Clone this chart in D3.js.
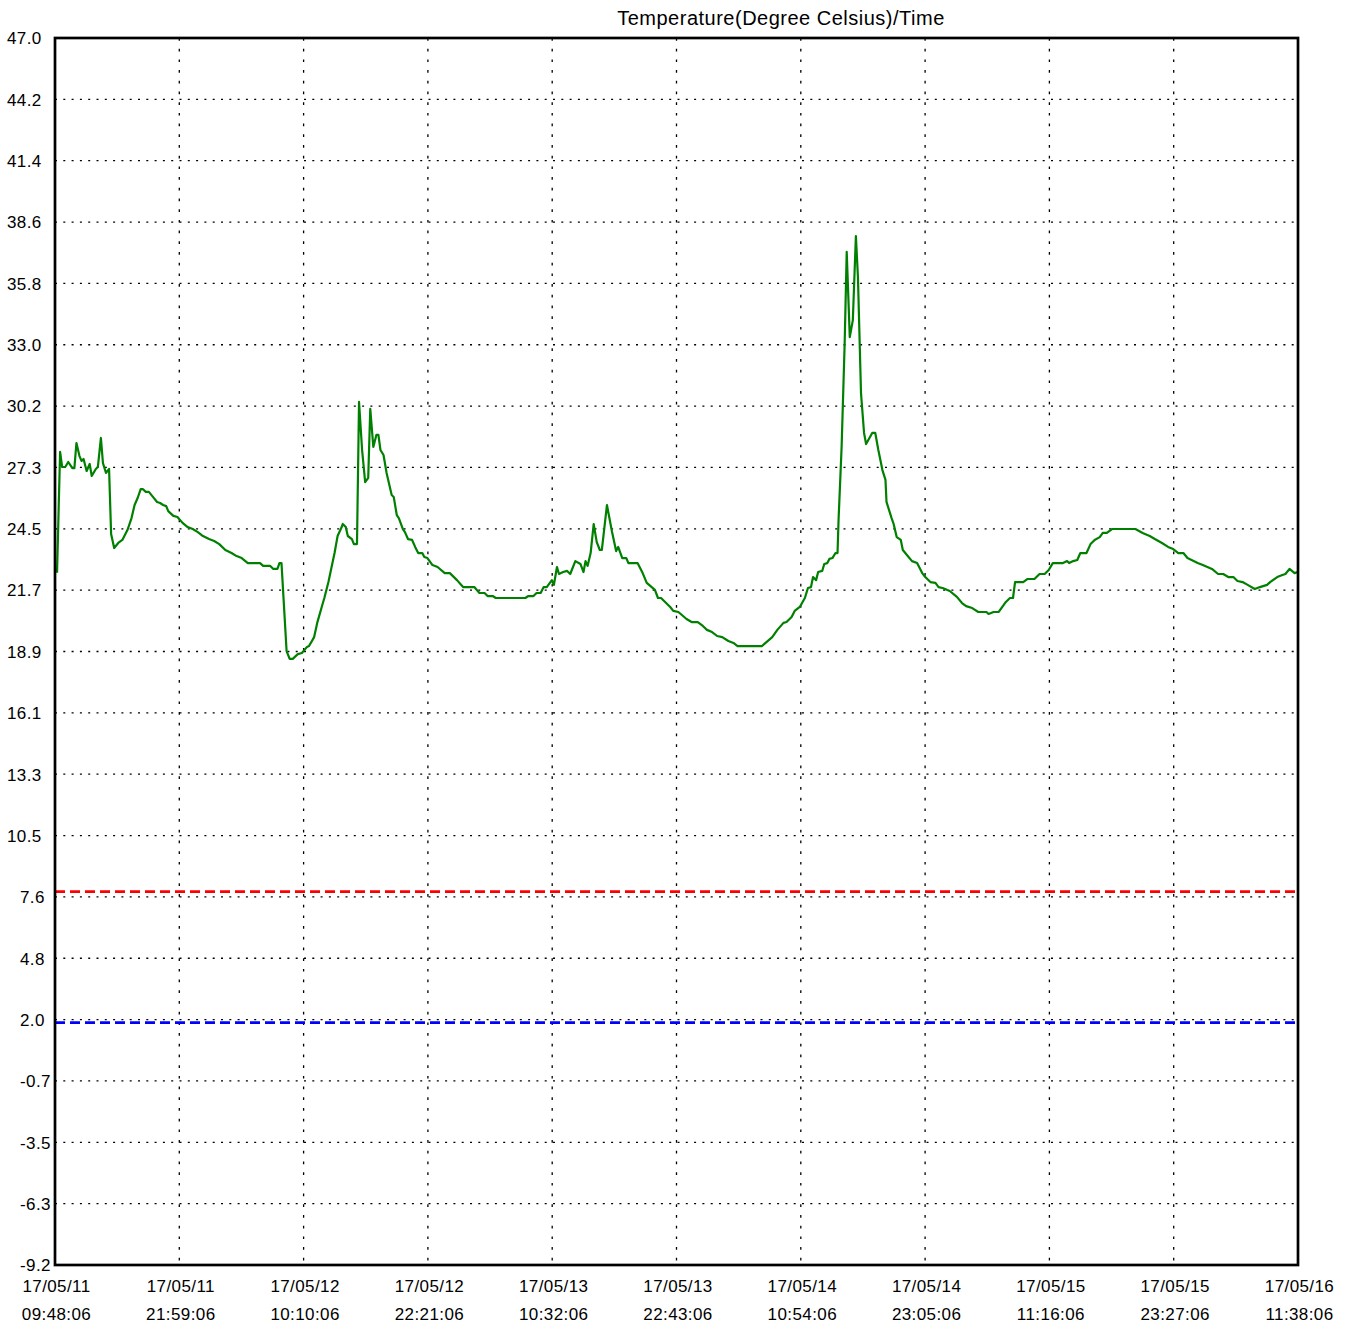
<!DOCTYPE html>
<html>
<head>
<meta charset="utf-8">
<script src="https://cdn.jsdelivr.net/npm/d3@7"></script>
<style>
  body { margin: 0; background: #fff; }
  svg text { font-family: "Liberation Sans", Arial, sans-serif; fill: #000; }
</style>
</head>
<body>
<div id="chart"></div>
<script>
// logger readings: hours after the first sample, temperature in deg C
var startTime = new Date(2017, 4, 11, 9, 48, 6);
var tickStepMinutes = 731;   // 12h11m between time labels
var xTickCount = 11;

var hoursFromStart = [
  0.2, 0.5, 0.7, 1.0, 1.3, 1.7, 1.9, 2.1, 2.4, 2.6, 2.8, 3.1, 3.4, 3.6, 4.0, 4.2, 4.5, 4.7, 5.0, 5.3,
  5.5, 5.8, 6.2, 6.6, 7.1, 7.5, 7.8, 8.1, 8.4, 8.6, 8.9, 9.2, 9.6, 10.0, 10.3, 10.6, 10.9, 11.1, 11.6, 12.0,
  12.5, 13.0, 13.5, 14.0, 14.5, 15.1, 15.6, 16.1, 16.7, 17.3, 17.8, 18.3, 18.9, 20.1, 20.4, 21.1, 21.4, 21.8, 22.0, 22.2,
  22.7, 23.0, 23.3, 23.8, 24.2, 24.7, 24.9, 25.4, 25.7, 26.2, 26.4, 26.8, 27.4, 27.7, 28.1, 28.2, 28.5, 28.7, 29.1, 29.3,
  29.6, 29.8, 30.1, 30.4, 30.7, 30.9, 31.2, 31.5, 31.7, 31.9, 32.2, 32.5, 33.0, 33.2, 33.5, 33.7, 34.1, 34.3, 34.6, 35.0,
  35.3, 35.6, 36.0, 36.2, 36.5, 37.0, 37.5, 38.2, 38.7, 39.4, 40.0, 41.1, 41.6, 42.1, 42.4, 42.9, 43.2, 46.1, 46.4, 46.9,
  47.2, 47.6, 47.9, 48.2, 48.7, 48.9, 49.2, 49.4, 49.8, 50.2, 50.5, 51.0, 51.5, 51.8, 52.0, 52.2, 52.5, 52.8, 53.1, 53.4,
  53.6, 54.1, 54.6, 55.0, 55.2, 55.6, 56.0, 56.2, 57.1, 57.6, 58.0, 58.8, 59.1, 59.4, 60.3, 60.6, 61.1, 61.9, 62.4, 63.0,
  63.5, 63.9, 64.4, 64.9, 65.4, 66.0, 66.5, 66.9, 69.3, 70.3, 70.8, 71.4, 71.7, 72.2, 72.5, 73.0, 73.5, 73.8, 74.1, 74.3,
  74.6, 74.8, 75.2, 75.4, 75.7, 75.9, 76.2, 76.5, 76.7, 76.8, 77.1, 77.4, 77.6, 77.9, 78.2, 78.5, 78.7, 79.0, 79.3, 79.5,
  80.1, 80.4, 80.7, 81.1, 81.4, 81.5, 82.0, 82.2, 82.5, 82.9, 83.1, 83.5, 84.0, 84.5, 85.0, 85.3, 85.8, 86.3, 86.6, 87.0,
  87.7, 88.4, 88.9, 89.3, 89.9, 90.5, 91.3, 91.5, 92.0, 92.5, 93.2, 93.6, 93.9, 94.1, 94.9, 95.3, 96.0, 96.5, 97.0, 97.4,
  97.8, 98.8, 99.2, 99.4, 99.8, 100.2, 100.5, 101.1, 101.5, 101.9, 102.4, 102.7, 103.1, 103.6, 105.9, 106.6, 107.3, 107.8, 108.5, 109.1,
  109.6, 110.1, 110.6, 111.0, 111.4, 112.0, 112.5, 113.4, 114.0, 114.5, 115.0, 115.5, 115.9, 116.4, 116.9, 117.6, 118.1, 118.8, 119.1, 119.8,
  120.3, 120.6, 121.0, 121.5, 121.8
];

var temperature = [
  22.51, 28.04, 27.35, 27.35, 27.58, 27.30, 27.30, 28.45, 27.85, 27.63, 27.72, 27.17, 27.49, 26.94, 27.26, 27.35, 28.68, 27.53, 27.08, 27.26,
  24.28, 23.64, 23.87, 24.01, 24.46, 25.01, 25.61, 25.93, 26.34, 26.34, 26.21, 26.21, 25.98, 25.75, 25.70, 25.61, 25.56, 25.33, 25.11, 25.06,
  24.79, 24.60, 24.51, 24.37, 24.19, 24.05, 23.96, 23.82, 23.55, 23.41, 23.27, 23.18, 22.95, 22.95, 22.82, 22.82, 22.68, 22.68, 22.95, 22.95,
  18.92, 18.56, 18.56, 18.78, 18.83, 19.11, 19.15, 19.56, 20.21, 21.03, 21.35, 22.08, 23.41, 24.19, 24.60, 24.74, 24.60, 24.19, 24.05, 23.82,
  23.82, 30.33, 28.13, 26.66, 26.85, 30.01, 28.27, 28.82, 28.82, 28.13, 27.90, 27.08, 26.07, 25.98, 25.15, 25.01, 24.51, 24.37, 24.05, 24.01,
  23.69, 23.41, 23.41, 23.23, 23.18, 22.86, 22.77, 22.49, 22.49, 22.17, 21.85, 21.85, 21.58, 21.58, 21.44, 21.44, 21.35, 21.35, 21.44, 21.44,
  21.58, 21.58, 21.85, 21.85, 22.17, 21.95, 22.77, 22.45, 22.54, 22.59, 22.45, 23.04, 22.91, 22.54, 23.04, 22.82, 23.41, 24.74, 23.91, 23.55,
  23.55, 25.61, 24.37, 23.50, 23.69, 23.18, 23.18, 22.95, 22.95, 22.49, 22.04, 21.72, 21.35, 21.35, 20.94, 20.76, 20.71, 20.39, 20.25, 20.25,
  20.07, 19.89, 19.79, 19.61, 19.56, 19.38, 19.29, 19.15, 19.15, 19.56, 19.89, 20.21, 20.25, 20.48, 20.76, 20.94, 21.35, 21.81, 21.85, 22.31,
  22.17, 22.54, 22.59, 22.91, 22.95, 23.14, 23.18, 23.41, 23.41, 24.92, 28.27, 33.03, 37.20, 33.30, 34.08, 37.93, 36.05, 30.74, 28.91, 28.40,
  28.91, 28.91, 28.13, 27.21, 26.76, 25.75, 25.01, 24.74, 24.14, 24.01, 23.55, 23.32, 23.04, 22.95, 22.49, 22.31, 22.08, 22.04, 21.85, 21.81,
  21.67, 21.40, 21.12, 20.98, 20.89, 20.71, 20.71, 20.62, 20.71, 20.71, 21.17, 21.35, 21.35, 22.08, 22.08, 22.22, 22.22, 22.45, 22.45, 22.63,
  22.95, 22.95, 23.04, 22.95, 23.04, 23.09, 23.41, 23.41, 23.82, 24.01, 24.14, 24.33, 24.33, 24.51, 24.51, 24.33, 24.19, 24.05, 23.87, 23.69,
  23.59, 23.41, 23.41, 23.18, 23.09, 22.95, 22.86, 22.68, 22.45, 22.45, 22.31, 22.31, 22.13, 22.08, 21.95, 21.76, 21.85, 21.95, 22.08, 22.31,
  22.40, 22.45, 22.68, 22.49, 22.54
];

var yMax = 47.0, yMin = -9.2, ySteps = 20;
var yTickLabels = ["47.0", "44.2", "41.4", "38.6", "35.8", "33.0", "30.2", "27.3", "24.5", "21.7", "18.9",
  "16.1", "13.3", "10.5", "7.6", "4.8", "2.0", "-0.7", "-3.5", "-6.3", "-9.2"];

var upperLimit = 7.9;   // red dashed
var lowerLimit = 1.9;   // blue dashed

var W = 1354, H = 1324;
var plotL = 55, plotR = 1298, plotT = 38, plotB = 1265;

var svg = d3.select("#chart").append("svg")
  .attr("width", W).attr("height", H);

var endTime = new Date(startTime.getTime() + (xTickCount - 1) * tickStepMinutes * 60000);
var x = d3.scaleTime().domain([startTime, endTime]).range([plotL, plotR]);
var y = d3.scaleLinear().domain([yMin, yMax]).range([plotB, plotT]);

var xTicks = d3.range(xTickCount).map(function(i){
  return new Date(startTime.getTime() + i * tickStepMinutes * 60000);
});
var yTicks = d3.range(ySteps + 1).map(function(i){ return yMax - i * (yMax - yMin) / ySteps; });

// grid
svg.append("g").selectAll("line")
  .data(yTicks.slice(1, -1)).enter().append("line")
  .attr("x1", plotL).attr("x2", plotR)
  .attr("y1", function(d){ return y(d); }).attr("y2", function(d){ return y(d); })
  .style("stroke", "#000").style("stroke-width", 1.3)
  .style("stroke-dasharray", "2,6.3");

svg.append("g").selectAll("line")
  .data(xTicks.slice(1, -1)).enter().append("line")
  .attr("x1", function(d){ return x(d); }).attr("x2", function(d){ return x(d); })
  .attr("y1", plotT).attr("y2", plotB)
  .style("stroke", "#000").style("stroke-width", 1.3)
  .style("stroke-dasharray", "2.7,8");

// limit lines
svg.append("line")
  .attr("x1", plotL).attr("x2", plotR)
  .attr("y1", y(upperLimit)).attr("y2", y(upperLimit))
  .style("stroke", "#ff0000").style("stroke-width", 2.7).style("stroke-dasharray", "10,5");
svg.append("line")
  .attr("x1", plotL).attr("x2", plotR)
  .attr("y1", y(lowerLimit)).attr("y2", y(lowerLimit))
  .style("stroke", "#0000ff").style("stroke-width", 2.7).style("stroke-dasharray", "10,5");

// temperature line
var pts = hoursFromStart.map(function(h, i){
  return { t: new Date(startTime.getTime() + h * 3600000), v: temperature[i] };
});
svg.append("path")
  .datum(pts)
  .attr("d", d3.line().x(function(d){ return x(d.t); }).y(function(d){ return y(d.v); }))
  .style("fill", "none").style("stroke", "#008000").style("stroke-width", 2.2)
  .style("stroke-linejoin", "round");

// frame
svg.append("rect")
  .attr("x", plotL).attr("y", plotT).attr("width", plotR - plotL).attr("height", plotB - plotT)
  .style("fill", "none").style("stroke", "#000").style("stroke-width", 2.7);

// y axis labels
var yAxis = svg.append("g")
  .attr("transform", "translate(" + plotL + ",0)")
  .call(d3.axisLeft(y).tickValues(yTicks).tickSize(0)
    .tickFormat(function(d, i){ return yTickLabels[i]; }));
yAxis.select(".domain").remove();
yAxis.selectAll("text")
  .attr("text-anchor", "start")
  .attr("dy", null)
  .attr("y", 5.8)
  .attr("x", function(d, i){ return Math.abs(parseFloat(yTickLabels[i])) >= 10 ? -48 : -35; })
  .style("font-size", "17px").style("letter-spacing", "0.4px");

// x axis labels, two lines each
var fmtDate = d3.timeFormat("%y/%m/%d"), fmtTime = d3.timeFormat("%H:%M:%S");
var xAxis = svg.append("g")
  .attr("transform", "translate(0," + plotB + ")")
  .call(d3.axisBottom(x).tickValues(xTicks).tickSize(0).tickFormat(""));
xAxis.select(".domain").remove();
xAxis.selectAll(".tick").append("text")
  .attr("text-anchor", "middle")
  .style("font-size", "17px").style("letter-spacing", "0.4px")
  .each(function(d){
    var t = d3.select(this);
    t.append("tspan").attr("x", 1).attr("y", 27).text(fmtDate(d));
    t.append("tspan").attr("x", 1).attr("y", 54.5).text(fmtTime(d));
  });

// title
svg.append("text")
  .attr("x", 781).attr("y", 25)
  .attr("text-anchor", "middle")
  .style("font-size", "20px").style("letter-spacing", "0.5px")
  .text("Temperature(Degree Celsius)/Time");
</script>
</body>
</html>
